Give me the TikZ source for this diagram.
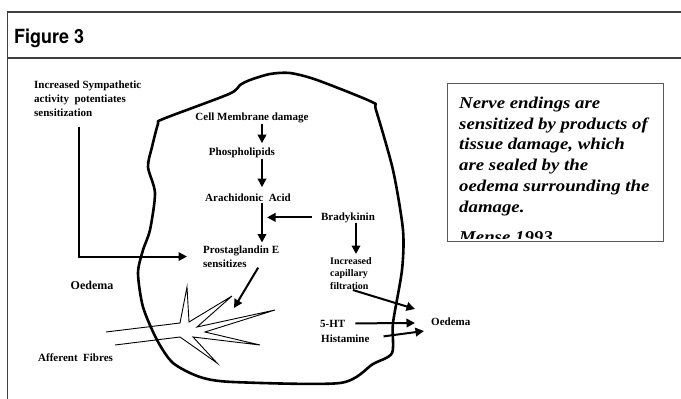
\documentclass[tikz,border=0pt]{standalone}
\usepackage{fontspec}
\setmainfont{Liberation Serif}
\newfontfamily\headfont[FakeStretch=0.92]{TeX Gyre Heros}
\newfontfamily\notefont[FakeStretch=1.14]{Liberation Serif}
\usetikzlibrary{arrows.meta}

\begin{document}
\begin{tikzpicture}[x=1pt, y=-1pt,
    lbl/.style={inner sep=0pt, font=\bfseries\fontsize{11}{14}\selectfont},
    small/.style={inner sep=0pt, font=\bfseries\fontsize{10}{12.5}\selectfont},
    arr/.style={line width=2pt, -{Triangle[length=8.5pt,width=8.5pt]}},
    fibre/.style={line width=0.9pt, line join=miter},
    wall/.style={line width=2.6pt, line join=round},
    frame/.style={line width=1.2pt, black!75}]
  \useasboundingbox (0,0) rectangle (681,399);

  % frame and title
  \draw[frame] (681,12) -- (7.5,12) -- (7.5,399);
  \draw[frame] (7.5,58) -- (681,58);
  \node[anchor=base west, inner sep=0pt,
        font=\headfont\bfseries\fontsize{19.5}{21}\selectfont] (title) at (14,43) {Figure 3};

  % cell wall
  \draw[wall] plot[smooth cycle, tension=0.45] coordinates {
    (163,119) (229,94) (240,85) (250,80) (270,74) (290,73) (317,80)
    (372,102) (376,110) (393,170) (403,230) (402,270) (393,323) (392,353)
    (373,364) (340,383) (233,382) (200,377) (173,363) (157,340) (143,307)
    (138,273) (143,250) (150,230) (155,193) (148,167) (152,147) (158,124)};

  % afferent fibres
  \draw[fibre] (106,332) -- (180,323) -- (187,287) -- (189,322) -- (232,296)
    -- (197,327) -- (275,310) -- (205,332) -- (260,345) -- (193,337)
    -- (217,363) -- (180,337) -- (115,345);

  \node[lbl, anchor=north west, align=left] (symp) at (34,80.5)
    {Increased Sympathetic\\activity\ \ potentiates\\sensitization};
  \node[lbl, anchor=base] (cmd) at (252,120) {Cell Membrane damage};
  \node[lbl, anchor=base] (phos) at (242,155) {Phospholipids};
  \node[lbl, anchor=base] (arach) at (248,201) {Arachidonic\ \ Acid};
  \node[lbl, anchor=base] (brady) at (348,220) {Bradykinin};
  \node[lbl, anchor=north west, align=left] (prost) at (203,245.5)
    {Prostaglandin E\\sensitizes};
  \node[small, anchor=north west, align=left] (capil) at (330,257)
    {Increased\\capillary\\filtration};
  \node[lbl, anchor=base west] (ht) at (320,327) {5-HT};
  \node[lbl, anchor=base west] (hist) at (321,342) {Histamine};
  \node[lbl, anchor=base west] (oedR) at (431,325) {Oedema};
  \node[lbl, anchor=base, font=\bfseries\fontsize{12}{14}\selectfont] (oedL) at (92,289) {Oedema};
  \node[lbl, anchor=base west] (aff) at (38,361) {Afferent\ \ Fibres};

  \coordinate (axis) at (262,0);
  \coordinate (kinx) at (356,0);
  \coordinate (sympbend) at (79,256);
  \coordinate (fibtip) at (234,308);
  \coordinate (o1) at (415,309);
  \coordinate (o2) at (415,323);
  \coordinate (o3) at (424,331);

  \draw[arr, shorten <=1pt, shorten >=4pt] (cmd.south -| axis) -- (phos.north -| axis);
  \draw[arr, shorten <=1pt, shorten >=6pt] (phos.south -| axis) -- (arach.north -| axis);
  \draw[arr, shorten <=2pt, shorten >=3pt] (arach.south -| axis) -- (prost.north -| axis);
  \draw[arr, shorten <=9pt, shorten >=5pt] (brady.west) -- (brady.west -| axis);
  \draw[arr, shorten >=3pt] (brady.south -| kinx) -- (capil.north -| kinx);
  \draw[arr, shorten <=10pt, shorten >=16pt] (symp.south -| sympbend) |- (prost.west);
  \draw[arr] ([xshift=17pt]prost.south) -- (fibtip);
  \draw[arr, shorten <=2pt] (capil.south) -- (o1);
  \draw[arr, shorten <=10pt] (ht.east) -- (o2);
  \draw[arr, shorten <=14pt] (hist.east) -- (o3);

  % quotation box
  \draw[black!65, line width=1pt] (447,83) rectangle (663,241);
  \begin{scope}
    \clip (447,83) rectangle (663,238);
    \node[anchor=north west, inner sep=0pt, align=left,
          font=\notefont\bfseries\itshape\fontsize{16.5}{20.9}\selectfont] (note) at (459,96.5)
      {Nerve endings are\\sensitized by products of\\tissue damage, which\\are sealed by the\\oedema surrounding the\\damage.\\[8.5pt]Mense 1993};
  \end{scope}
\end{tikzpicture}
\end{document}
